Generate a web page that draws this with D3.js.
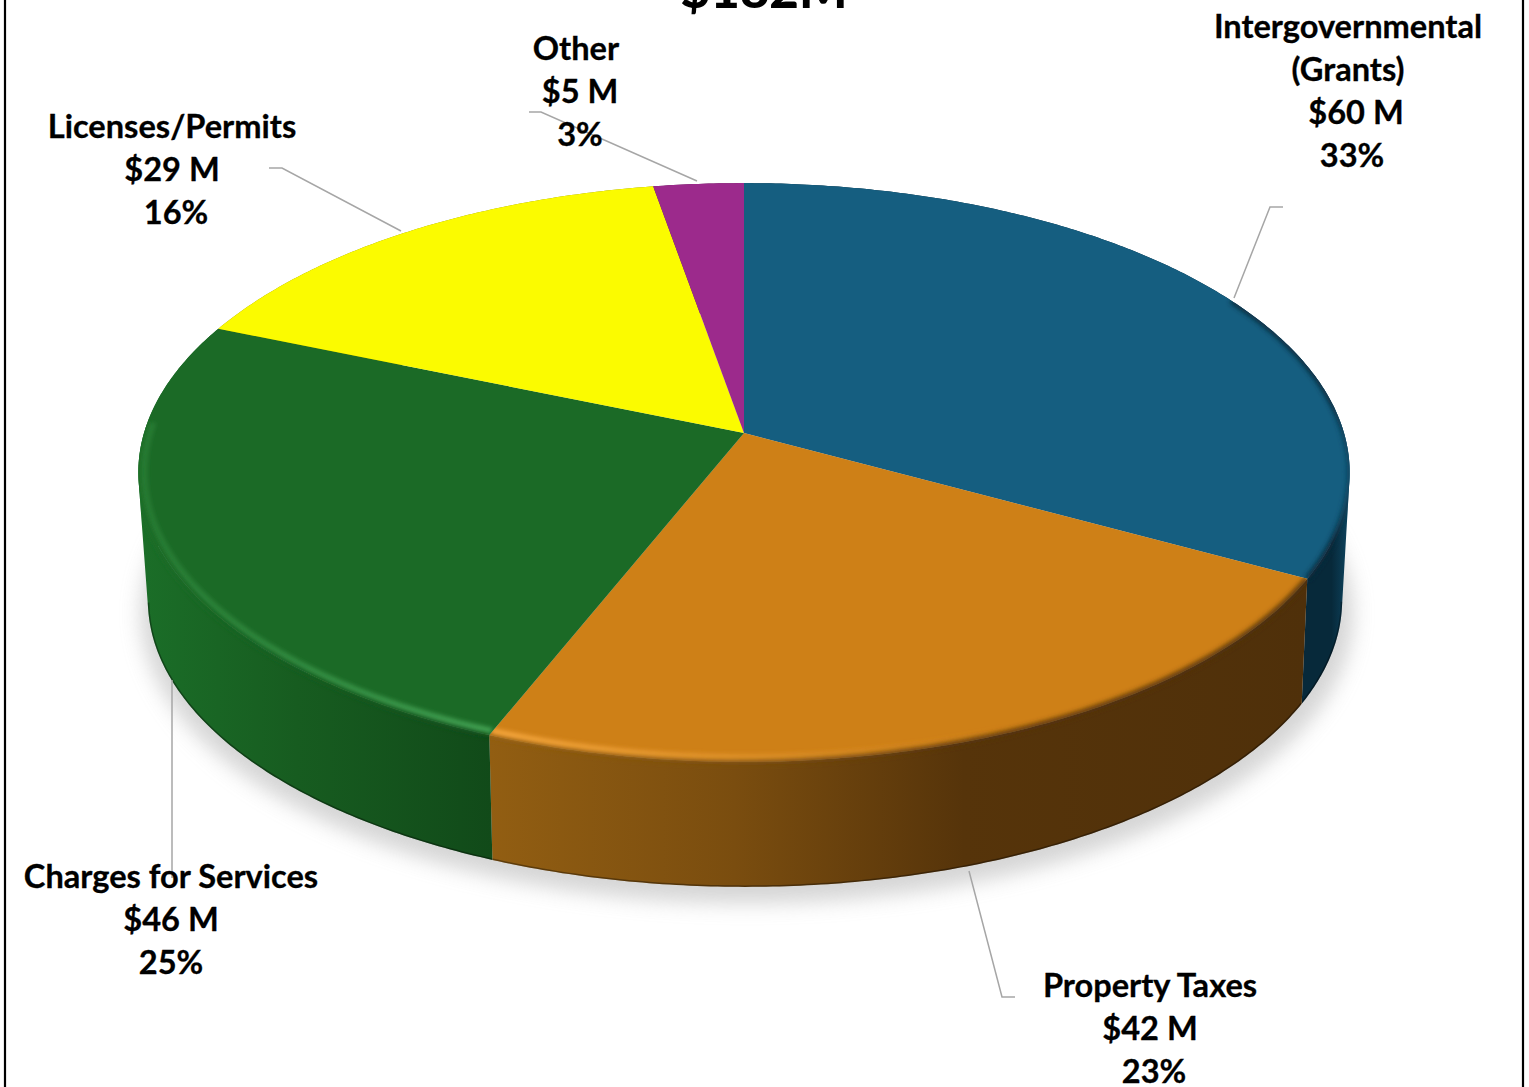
<!DOCTYPE html>
<html>
<head>
<meta charset="utf-8">
<style>
  html, body { margin: 0; padding: 0; background: #fff; overflow: hidden; }
  svg { display: block; }
  text { font-family: Lato, "Open Sans", sans-serif; font-weight: 700; fill: #000; text-anchor: middle; }
</style>
<script src="https://cdnjs.cloudflare.com/ajax/libs/d3/7.8.5/d3.min.js"></script>
</head>
<body>
<svg id="chart" width="1529" height="1087"></svg>
<script>
// Revenue sources, in millions of dollars
const categories = ["Intergovernmental (Grants)", "Property Taxes", "Charges for Services", "Licenses/Permits", "Other"];
const amounts = [60, 42, 46, 29, 5];
const shares = ["33%", "23%", "25%", "16%", "3%"];
const totalLabel = "$182M";

// Face and wall colours per slice
const faceColors = ["#155e80", "#ce8017", "#1b6a26", "#fbfb00", "#9c2a8c"];
const wallStops = [
  [[0, "#07293a"], [0.97, "#07293a"], [1, "#0e4560"]],
  [[0, "#925e12"], [0.3, "#7a4d0f"], [0.58, "#56340a"], [1, "#4f300a"]],
  [[0, "#1b6e28"], [0.45, "#175c20"], [1, "#114a19"]],
  [[0, "#888800"], [1, "#888800"]],
  [[0, "#5a1850"], [1, "#5a1850"]]
];
// Bevel highlight colour with its opacity at the left and right ends
const rimGlow = [null, ["#f8a83e", 1, 0], ["#45a556", 0.3, 1], null, null];
// Portion of each near rim that carries the bevel, in radians
const rimSpan = [[1.05, 2.08], [2.07, 3.53], [3.52, 4.75], null, null];
// Portion of each lower rim on the outer silhouette, in radians
const baseSpan = [[1.72, 2.08], [2.07, 3.53], [3.52, 4.56], null, null];

// Label text lines with their own centres and baselines
const labelLayout = [
  { lines: [["Intergovernmental", 1348, 38], ["(Grants)", 1348, 81], ["$60 M", 1356, 124], ["33%", 1352, 167]],
    leader: [[1283, 207], [1270, 207], [1234, 298]] },
  { lines: [["Property Taxes", 1150, 997], ["$42 M", 1150, 1040], ["23%", 1154, 1083]],
    leader: [[1015, 997], [1002, 997], [969, 871]] },
  { lines: [["Charges for Services", 171, 888], ["$46 M", 171, 931], ["25%", 171, 974]],
    leader: [[172, 680], [172, 878]] },
  { lines: [["Licenses/Permits", 172, 138], ["$29 M", 172, 181], ["16%", 176, 224]],
    leader: [[269, 168], [282, 168], [401, 231]] },
  { lines: [["Other", 576, 60], ["$5 M", 580, 103], ["3%", 580, 146]],
    leader: [[529, 112], [541, 112], [697, 181]] }
];

const W = 1529, H = 1087;
const svg = d3.select("#chart");
const defs = svg.append("defs");

// Perspective view of a flat disc: the far edge is foreshortened
function discProjection(cx, cy, R, Hy, k) {
  return a => {
    const u = Math.sin(a), v = -Math.cos(a), s = 1 / (1 - k * v);
    return [cx + R * u * s, cy + Hy * v * s];
  };
}
const topDisc = discProjection(744, 433, 600, 284, 0.1364);
const glowDisc = discProjection(744, 433, 594, 280, 0.1364);
const baseDisc = discProjection(745, 559, 591, 281, 0.143);
const shadowDisc = discProjection(747, 572, 600, 284, 0.143);

const arcPoints = (proj, a0, a1) => {
  const n = Math.max(2, Math.ceil((a1 - a0) / 0.01));
  return d3.range(n + 1).map(i => proj(a0 + (a1 - a0) * i / n));
};
const line = d3.line();

// Side wall as a run of quads with a common winding, so the silhouette
// between the upper and lower rims is filled as well
function wallOutline(topArc, baseArc) {
  return d3.range(topArc.length - 1).map(i => {
    const quad = [topArc[i], topArc[i + 1], baseArc[i + 1], baseArc[i]];
    if (d3.polygonArea(quad) < 0) quad.reverse();
    return line(quad) + "Z";
  }).join("");
}

const slices = d3.pie().sort(null).value(d => d)(amounts);

// White page with the frame's side rules
svg.append("rect").attr("width", W).attr("height", H).attr("fill", "#fff");
svg.append("rect").attr("x", 5).attr("y", -10).attr("width", 1518).attr("height", H + 20)
  .attr("fill", "none").attr("stroke", "#000").attr("stroke-width", 2.2);

// Title runs off the top of the frame
svg.append("text").attr("x", 764).attr("y", 8).attr("font-size", 51)
  .style("font-weight", 900).text(totalLabel);

// Blur filters
const blur = (id, sd) => defs.append("filter").attr("id", id)
  .attr("x", "-20%").attr("y", "-20%").attr("width", "140%").attr("height", "140%")
  .append("feGaussianBlur").attr("stdDeviation", sd);
blur("soft-shadow", 10);
blur("soft-rim", 2.5);
blur("soft-glow", 2);

// Ground shadow under the base disc
svg.append("path")
  .attr("d", line(arcPoints(shadowDisc, 0, 2 * Math.PI)) + "Z")
  .attr("fill", "#c4c4c4").attr("opacity", 0.7)
  .attr("filter", "url(#soft-shadow)");

const chart = svg.append("g");

// Walls
slices.forEach((sl, i) => {
  const a0 = sl.startAngle, a1 = sl.endAngle;
  const topArc = arcPoints(topDisc, a0, a1);
  const baseArc = arcPoints(baseDisc, a0, a1);
  const wallPath = wallOutline(topArc, baseArc);
  sl.facePath = line(topArc) + "L" + topDisc(0)[0] + ",433Z";

  const [xMin, xMax] = d3.extent(topArc.concat(baseArc), p => p[0]);
  const grad = defs.append("linearGradient").attr("id", "wall-" + i)
    .attr("gradientUnits", "userSpaceOnUse")
    .attr("x1", xMin).attr("x2", xMax).attr("y1", 0).attr("y2", 0);
  wallStops[i].forEach(s => grad.append("stop").attr("offset", s[0]).attr("stop-color", s[1]));

  const clip = defs.append("clipPath").attr("id", "clip-" + i);
  clip.append("path").attr("d", wallPath);
  clip.append("path").attr("d", sl.facePath);

  const g = chart.append("g");
  g.append("path").attr("d", wallPath).attr("fill", `url(#wall-${i})`);
  // Dark contact edge along the visible part of the base
  if (baseSpan[i]) {
    const edge = arcPoints(baseDisc, Math.max(baseSpan[i][0], a0), Math.min(baseSpan[i][1], a1));
    g.append("g").attr("clip-path", `url(#clip-${i})`)
      .append("path").attr("d", line(edge)).attr("fill", "none")
      .attr("stroke", "#000").attr("stroke-opacity", 0.35).attr("stroke-width", 3);
  }
});

// Faces over the walls
slices.forEach((sl, i) => {
  chart.append("path").attr("d", sl.facePath).attr("fill", faceColors[i]);
});

// Bevel along the near rim: a soft dark edge, then the highlight on the left part
slices.forEach((sl, i) => {
  if (!rimSpan[i]) return;
  const [r0, r1] = rimSpan[i];
  const g = chart.append("g").attr("clip-path", `url(#clip-${i})`);
  const rim = arcPoints(topDisc, Math.max(r0, sl.startAngle), Math.min(r1, sl.endAngle));
  g.append("path").attr("d", line(rim)).attr("fill", "none")
    .attr("stroke", `url(#wall-${i})`).attr("stroke-width", 5.5)
    .attr("filter", "url(#soft-rim)");
  if (rimGlow[i]) {
    const [col, o0, o1] = rimGlow[i];
    const glowRim = arcPoints(glowDisc, Math.max(r0, sl.startAngle), Math.min(r1, sl.endAngle));
    const [xMin, xMax] = d3.extent(glowRim, p => p[0]);
    const gl = defs.append("linearGradient").attr("id", "glow-" + i)
      .attr("gradientUnits", "userSpaceOnUse")
      .attr("x1", xMin).attr("x2", i === 1 ? xMin + 520 : xMax).attr("y1", 0).attr("y2", 0);
    gl.append("stop").attr("offset", 0).attr("stop-color", col).attr("stop-opacity", o0);
    gl.append("stop").attr("offset", 1).attr("stop-color", col).attr("stop-opacity", o1);
    g.append("path").attr("d", line(glowRim)).attr("fill", "none")
      .attr("stroke", `url(#glow-${i})`).attr("stroke-width", 5.5)
      .attr("filter", "url(#soft-glow)");
  }
});

// Leader lines
labelLayout.forEach(l => {
  svg.append("path").attr("d", line(l.leader)).attr("fill", "none")
    .attr("stroke", "#a6a6a6").attr("stroke-width", 1.5);
});

// Labels
labelLayout.forEach(l => {
  l.lines.forEach(([t, x, y]) => {
    svg.append("text").attr("x", x).attr("y", y).attr("font-size", 32.6)
      .attr("stroke", "#000").attr("stroke-width", 0.3).text(t);
  });
});
</script>
</body>
</html>
